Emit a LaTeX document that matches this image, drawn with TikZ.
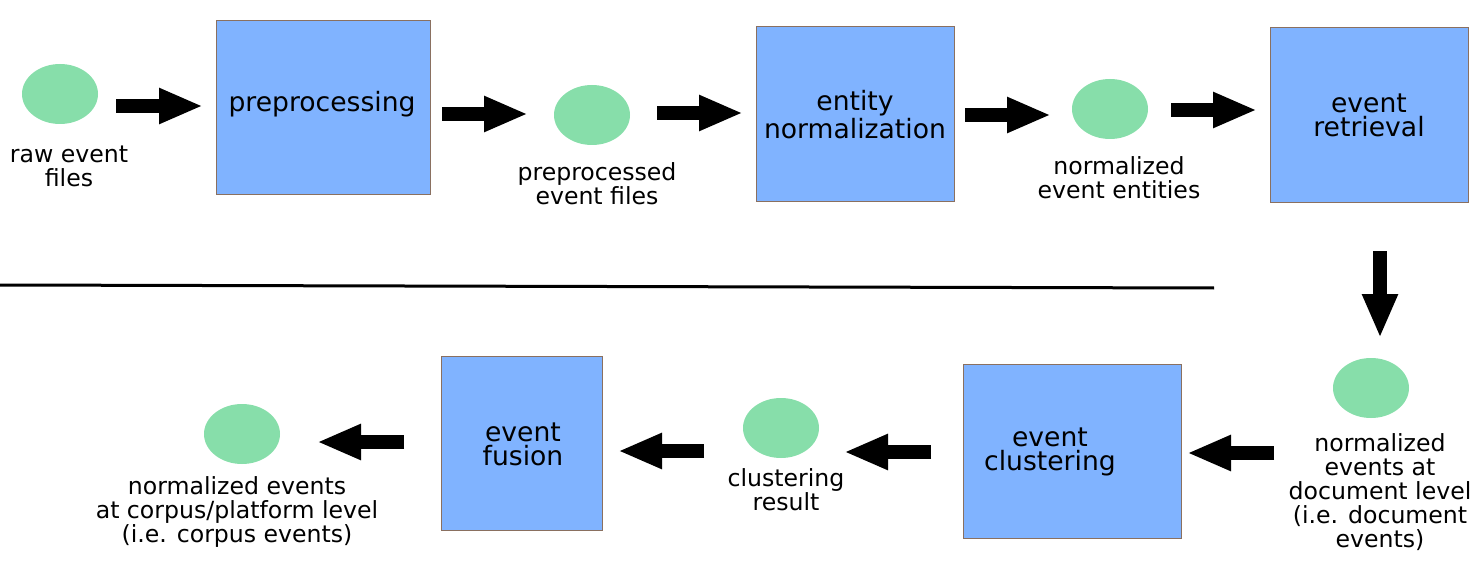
\documentclass[tikz,border=0pt]{standalone}
\usepackage{fontspec}
\setmainfont{DejaVu Sans}
\usetikzlibrary{arrows.meta,shapes.geometric}
\definecolor{boxblue}{HTML}{80B3FF}
\definecolor{boxedge}{HTML}{8A7060}
\definecolor{blobgreen}{HTML}{87DEAA}
\begin{document}
\begin{tikzpicture}[x=0.5pt,y=-0.5pt,
  procbox/.style={rectangle,draw=boxedge,line width=0.5pt,fill=boxblue,inner sep=0pt,
    align=center,font=\fontsize{13.3}{12}\selectfont},
  boxtext/.style={align=center,inner sep=0pt,font=\fontsize{13.3}{12}\selectfont},
  blob/.style={ellipse,fill=blobgreen,draw=none,minimum width=38pt,minimum height=30pt,inner sep=0pt},
  lbl/.style={align=center,inner sep=0pt,font=\fontsize{11.8}{12}\selectfont},
  bigarrow/.style={line width=7pt,-{Triangle[length=22pt,width=16.5pt]}},
  divider/.style={line width=1.5pt}]
\useasboundingbox (0,0) rectangle (1474,567);
% top row
\node[blob] (e1) at (60,94) {};
\node[lbl] (l1) at (69,166) {raw event\\files};
\node[procbox,minimum width=107pt,minimum height=87pt] (b1) at (323,108) {};
\node[boxtext] (t1) at (322,104) {preprocessing};
\node[blob] (e2) at (592,115) {};
\node[lbl] (l2) at (597,184) {preprocessed\\event files};
\node[procbox,minimum width=99pt,minimum height=87.5pt] (b2) at (855,114.5) {entity\\normalization};
\node[blob] (e3) at (1110,109) {};
\node[lbl] (l3) at (1119,178) {normalized\\event entities};
\node[procbox,minimum width=99pt,minimum height=87.5pt] (b3) at (1369,115.5) {event\\retrieval};
% bottom row
\node[blob] (e4) at (1371,388) {};
\node[lbl] (l4) at (1380,492.5) {normalized\\events at\\document level\\(i.e. document\\events)};
\node[procbox,minimum width=109pt,minimum height=87pt] (b4) at (1072,451) {};
\node[boxtext] (t4) at (1050,452) {event\\clustering};
\node[blob] (e5) at (781,428) {};
\node[lbl] (l5) at (786,489.5) {clustering\\result};
\node[procbox,minimum width=80.5pt,minimum height=87pt] (b5) at (521.5,443) {};
\node[boxtext] (t5) at (523,444) {event\\fusion};
\node[blob] (e6) at (242,434) {};
\node[lbl] (l6) at (237,511.5) {normalized events\\at corpus/platform level\\(i.e. corpus events)};
% arrow end points
\coordinate (a1s) at (116,106); \coordinate (a1e) at (203,106);
\coordinate (a2s) at (442,114); \coordinate (a2e) at (528,114);
\coordinate (a3s) at (657,113); \coordinate (a3e) at (743,113);
\coordinate (a4s) at (965,115); \coordinate (a4e) at (1051,115);
\coordinate (a5s) at (1171,110); \coordinate (a5e) at (1257,110);
\coordinate (a6s) at (1380,251); \coordinate (a6e) at (1380,338);
\coordinate (a7s) at (1274,453); \coordinate (a7e) at (1187,453);
\coordinate (a8s) at (931,452); \coordinate (a8e) at (844,452);
\coordinate (a9s) at (704,451); \coordinate (a9e) at (618,451);
\coordinate (a10s) at (404,442); \coordinate (a10e) at (317,442);
\foreach \i in {1,...,10} {\draw[bigarrow] (a\i s) -- (a\i e);}
% divider
\coordinate (d1) at (0,285); \coordinate (d2) at (1214,288);
\draw[divider] (d1) -- (d2);
\end{tikzpicture}
\end{document}
